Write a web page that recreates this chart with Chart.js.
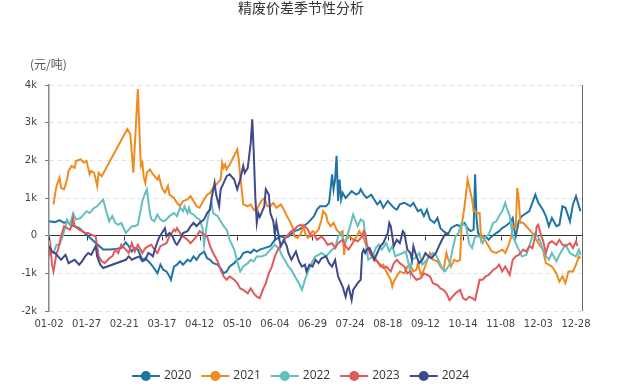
<!DOCTYPE html>
<html>
<head>
<meta charset="utf-8">
<script src="https://cdn.jsdelivr.net/npm/chart.js@4.4.0/dist/chart.umd.min.js"></script>
<style>
html,body{margin:0;padding:0;background:#fff;}
canvas{display:block;}
</style>
</head>
<body>
<canvas id="c" width="637" height="390"></canvas>
<script>
// x tick labels (one every 25 trading-calendar days)
const tickLabels = ["01-02","01-27","02-21","03-17","04-12","05-10","06-04","06-29","07-24","08-18","09-12","10-14","11-08","12-03","12-28"];
const years = ["2020","2021","2022","2023","2024"];
const colors = ["#1f74a6","#f28b1f","#63c0c0","#e05a5c","#3f4a8b"];
const titleText = "精废价差季节性分析";
const unitText = "(元/吨)";

// [day index, value in yuan/t]
const d2020 = [[0,380],[2,370],[4,360],[7,410],[10,340],[12,380],[14,290],[17,250],[20,200],[36,-370],[41,-370],[45,-350],[48,-330],[51,-180],[53,-280],[55,-420],[57,-330],[59,-370],[62,-640],[64,-600],[66,-680],[68,-770],[69,-820],[72,-1000],[74,-770],[76,-910],[78,-950],[80,-1080],[81,-1170],[83,-820],[85,-770],[87,-680],[89,-770],[92,-640],[94,-680],[96,-550],[98,-640],[100,-510],[103,-420],[105,-600],[107,-640],[109,-730],[112,-770],[114,-860],[116,-1000],[118,-950],[120,-820],[123,-730],[125,-640],[127,-600],[129,-460],[132,-420],[134,-460],[136,-370],[138,-420],[140,-370],[143,-330],[147,-280],[150,-110],[154,-20],[157,-60],[159,-20],[163,120],[166,160],[169,250],[172,340],[176,520],[178,690],[180,780],[184,780],[186,870],[187,1230],[188,1630],[189,1230],[190,1490],[191,2120],[192,920],[193,1490],[194,960],[195,1140],[197,1000],[199,1090],[201,1180],[204,1090],[206,1140],[207,1230],[209,1090],[211,1000],[214,1090],[216,960],[218,830],[220,920],[222,740],[225,920],[227,830],[229,740],[231,690],[233,830],[236,870],[238,830],[240,780],[242,870],[245,650],[247,690],[249,520],[251,690],[253,430],[256,340],[258,470],[260,200],[262,120],[265,30],[267,200],[269,250],[271,290],[273,250],[276,340],[278,200],[280,120],[282,160],[283,1630],[284,430],[285,70],[287,-20],[290,-20],[292,-110],[294,-20],[297,70],[299,120],[301,200],[303,250],[306,340],[308,470],[309,160],[310,-20],[312,380],[314,520],[317,600],[319,650],[321,870],[323,1090],[325,870],[328,690],[330,520],[332,250],[334,470],[337,250],[339,290],[341,780],[343,740],[346,380],[348,830],[350,1050],[352,780],[353,650]];

const d2021 = [[3,830],[4,1090],[5,1320],[7,1540],[8,1270],[10,1230],[12,1490],[13,1720],[15,1850],[17,1800],[18,1980],[21,2030],[23,1940],[25,1980],[26,1800],[27,1630],[28,1720],[30,1670],[32,1320],[33,1670],[35,1580],[52,2830],[54,2690],[56,1670],[59,3890],[61,1850],[62,1940],[63,1540],[64,1400],[65,1670],[67,1760],[69,1630],[72,1490],[73,1580],[75,1270],[77,1140],[79,1320],[80,1090],[83,1000],[85,870],[87,780],[89,920],[92,960],[94,1050],[96,920],[98,780],[100,740],[103,960],[105,1090],[107,1140],[109,1270],[112,1400],[114,1490],[115,1940],[116,1800],[117,1890],[118,1760],[120,1890],[123,2120],[125,2290],[126,2030],[127,1580],[128,1230],[129,830],[132,780],[134,830],[136,690],[138,650],[139,780],[141,920],[143,1000],[145,780],[147,780],[149,870],[151,740],[154,830],[156,690],[158,520],[160,380],[162,200],[163,-20],[165,-60],[167,30],[169,250],[170,70],[172,-60],[175,120],[177,70],[179,160],[181,430],[182,650],[184,560],[185,380],[187,250],[189,340],[191,160],[193,70],[195,120],[196,-510],[197,-110],[200,-20],[202,-110],[204,-60],[206,120],[209,-60],[210,-200],[211,-280],[213,-420],[216,-550],[218,-680],[220,-820],[222,-770],[224,-950],[227,-1170],[228,-1350],[229,-1220],[231,-1080],[233,-950],[236,-1000],[238,-820],[240,-770],[242,-950],[244,-910],[245,-730],[247,-1040],[249,-910],[251,-680],[253,-460],[255,-640],[258,-680],[260,-820],[262,-910],[264,-460],[265,-600],[267,-820],[269,-640],[271,-680],[273,-640],[274,250],[276,780],[278,1490],[281,960],[282,650],[283,650],[284,600],[286,600],[287,-110],[288,-20],[290,-150],[292,-280],[294,-420],[297,-460],[299,-420],[301,-370],[303,-460],[305,-280],[307,-20],[308,250],[310,200],[311,1270],[312,960],[313,340],[315,340],[317,250],[319,160],[321,70],[323,-60],[325,-200],[328,-370],[330,-730],[332,-770],[334,-820],[337,-1000],[339,-1220],[341,-1080],[343,-1260],[345,-950],[348,-950],[350,-770],[352,-550],[353,-600]];

const d2022 = [[1,-420],[3,-460],[5,-240],[7,-240],[9,-20],[11,250],[12,430],[14,290],[16,600],[18,430],[21,470],[23,560],[25,650],[27,600],[30,740],[32,780],[34,870],[36,960],[38,650],[40,380],[42,520],[44,340],[46,290],[48,340],[51,70],[53,160],[55,250],[57,250],[59,290],[62,920],[64,1140],[65,1230],[67,600],[68,430],[70,380],[72,560],[74,430],[76,380],[78,430],[80,520],[83,600],[85,520],[87,740],[89,650],[90,780],[92,600],[93,740],[94,600],[96,560],[98,470],[100,430],[102,200],[103,-240],[105,340],[107,780],[108,870],[109,600],[112,520],[114,380],[116,250],[118,160],[120,-110],[123,-370],[125,-680],[127,-950],[129,-820],[132,-730],[134,-640],[136,-680],[138,-550],[141,-550],[144,-510],[146,-420],[148,-330],[150,-240],[153,-370],[155,-550],[157,-680],[159,-820],[161,-910],[164,-1130],[166,-1260],[168,-1440],[169,-1310],[170,-1170],[172,-950],[175,-680],[177,-550],[179,-510],[181,-460],[184,-550],[186,-460],[188,-370],[190,-330],[192,-20],[194,70],[196,-200],[197,-150],[199,120],[200,250],[202,560],[205,250],[207,430],[209,380],[210,-20],[211,-370],[212,-640],[215,-550],[217,-330],[219,-240],[221,-370],[224,-200],[226,-420],[228,-280],[230,-550],[232,-510],[235,-460],[237,-420],[239,-770],[240,-1000],[241,-640],[243,-600],[246,-460],[248,-770],[250,-680],[252,-600],[255,-460],[257,-510],[259,-680],[261,-860],[263,-950],[266,-770],[268,-370],[270,-20],[272,70],[274,340],[277,250],[279,-200],[281,-330],[283,-20],[286,-20],[288,-200],[290,-20],[292,30],[295,340],[297,380],[299,520],[301,650],[303,870],[304,740],[306,520],[308,-20],[310,-200],[312,-370],[314,-550],[317,-510],[319,-280],[321,-20],[323,70],[326,-110],[328,-370],[330,-550],[332,-640],[334,-460],[337,-680],[339,-510],[341,-370],[343,-240],[346,-460],[348,-510],[350,-550],[352,-370],[353,-510]];

const d2023 = [[0,-550],[1,-280],[2,-770],[3,-950],[5,-460],[6,-370],[8,-20],[10,250],[12,200],[14,160],[15,250],[16,470],[17,250],[20,160],[22,120],[24,70],[26,70],[28,30],[31,-20],[33,-550],[35,-680],[37,-730],[40,-600],[42,-550],[44,-370],[46,-460],[48,-240],[51,-370],[53,-460],[55,-200],[57,-420],[59,-240],[62,-460],[64,-330],[66,-280],[68,-240],[70,-370],[72,-460],[74,-280],[76,-240],[78,-200],[80,-20],[83,160],[84,120],[85,200],[87,70],[89,-20],[92,-110],[94,-200],[96,-110],[98,-20],[100,120],[103,30],[105,-20],[107,-280],[109,-460],[112,-680],[114,-910],[116,-1080],[118,-1170],[120,-1080],[123,-1170],[125,-1260],[127,-1400],[129,-1440],[132,-1530],[134,-1400],[136,-1530],[138,-1620],[140,-1660],[142,-1440],[144,-1260],[146,-1000],[148,-820],[150,-550],[152,-370],[155,-200],[157,-60],[159,30],[161,120],[163,160],[165,250],[167,290],[170,250],[172,160],[174,-20],[176,30],[178,-110],[181,-20],[183,-110],[185,-240],[188,-200],[190,-330],[192,-200],[195,-110],[197,-280],[199,-370],[201,-240],[203,-110],[205,-150],[208,-20],[209,120],[210,70],[211,-200],[213,-460],[216,-640],[218,-680],[220,-770],[222,-860],[224,-820],[227,-950],[229,-730],[231,-640],[233,-730],[236,-820],[238,-1000],[240,-950],[242,-1080],[244,-1170],[247,-1130],[249,-1000],[251,-1040],[253,-1080],[255,-1260],[258,-1310],[260,-1400],[262,-1440],[264,-1530],[266,-1710],[268,-1620],[270,-1530],[273,-1440],[275,-1660],[277,-1710],[279,-1620],[281,-1660],[283,-1710],[286,-1170],[288,-1170],[290,-1080],[292,-1040],[295,-910],[297,-860],[299,-770],[301,-950],[303,-820],[306,-1040],[308,-640],[310,-550],[312,-510],[315,-370],[317,-420],[319,-280],[321,-330],[323,-20],[324,250],[325,290],[327,-20],[328,-110],[330,-460],[332,-200],[334,-150],[337,-240],[339,-110],[341,-240],[343,-280],[346,-200],[348,-330],[350,-150],[351,-280]];

const d2024 = [[0,-280],[2,-420],[4,-460],[6,-550],[8,-640],[11,-510],[13,-730],[15,-680],[17,-640],[20,-770],[22,-680],[24,-550],[26,-460],[28,-510],[31,-280],[32,-550],[34,-770],[36,-860],[51,-640],[53,-550],[55,-640],[57,-600],[60,-550],[62,-680],[64,-640],[66,-460],[68,-510],[69,-550],[71,-280],[73,-60],[75,70],[77,200],[78,-20],[80,70],[82,-20],[84,-200],[85,-240],[87,-110],[89,70],[92,120],[94,250],[96,340],[98,250],[100,340],[103,430],[105,600],[107,690],[108,1000],[110,1400],[111,1090],[113,780],[114,1230],[116,1400],[118,1580],[120,1630],[123,1490],[125,1230],[127,1490],[129,1850],[130,1670],[132,1800],[134,2470],[135,3090],[136,2200],[137,1050],[138,340],[139,600],[140,500],[143,780],[144,1230],[146,1090],[147,600],[149,380],[150,30],[151,340],[153,-110],[154,-280],[156,-110],[158,-280],[159,-460],[161,-640],[164,-420],[166,-680],[168,-820],[170,-770],[171,-950],[173,-770],[175,-820],[177,-640],[179,-730],[181,-600],[184,-550],[186,-730],[188,-820],[190,-640],[192,-1080],[195,-1350],[197,-1620],[198,-1440],[199,-1350],[201,-1710],[202,-1440],[205,-1260],[207,-1170],[208,-460],[209,-370],[210,-460],[211,-370],[213,-330],[216,-640],[218,-460],[220,-280],[222,-200],[225,70],[226,340],[227,250],[228,-20],[229,-280],[231,-110],[233,-200],[235,120],[236,70],[238,-370],[240,-460],[241,-640],[242,-280],[244,-550],[246,-730],[248,-640],[250,-460],[252,-550],[254,-600],[257,-460],[259,-280],[261,-110],[263,30],[265,70]];

const seriesData = [d2020, d2021, d2022, d2023, d2024];

Chart.defaults.font.family = '"DejaVu Sans", sans-serif';

const extras = {
  id: 'extras',
  beforeDatasetsDraw(chart) {
    const {ctx, scales: {x, y}, chartArea} = chart;
    const y0 = Math.round(y.getPixelForValue(0)) + 0.5;
    ctx.save();
    ctx.strokeStyle = '#333';
    ctx.lineWidth = 1;
    x.ticks.forEach(t => {
      const px = Math.round(x.getPixelForValue(t.value)) + 0.5;
      ctx.beginPath(); ctx.moveTo(px, y0); ctx.lineTo(px, y0 + 4); ctx.stroke();
    });
    const r = Math.round(chartArea.right) + 0.5;
    ctx.strokeStyle = '#666';
    ctx.beginPath(); ctx.moveTo(r, chartArea.top); ctx.lineTo(r, chartArea.bottom); ctx.stroke();
    ctx.restore();
  },
  afterDraw(chart) {
    const ctx = chart.ctx;
    ctx.save();
    // title
    ctx.fillStyle = '#333';
    ctx.font = '14px "Noto Sans CJK SC"';
    ctx.textAlign = 'center';
    ctx.textBaseline = 'middle';
    ctx.fillText(titleText, 301, 8);
    // unit
    ctx.fillStyle = '#555';
    ctx.font = '12px "Noto Sans CJK SC"';
    ctx.textAlign = 'left';
    ctx.fillText(unitText, 30, 64);
    // legend
    ctx.font = '12px "Open Sans"';
    const lineW = 28, gapT = 4, gapI = 10;
    const widths = years.map(t => lineW + gapT + ctx.measureText(t).width);
    const total = widths.reduce((a, b) => a + b, 0) + gapI * (years.length - 1);
    let lx = 300.5 - total / 2;
    const ly = 376;
    chart.data.datasets.forEach((ds, i) => {
      ctx.strokeStyle = ds.borderColor;
      ctx.lineWidth = 2;
      ctx.beginPath(); ctx.moveTo(lx, ly); ctx.lineTo(lx + lineW, ly); ctx.stroke();
      ctx.fillStyle = ds.borderColor;
      ctx.beginPath(); ctx.arc(lx + lineW / 2, ly, 5, 0, Math.PI * 2); ctx.fill();
      ctx.fillStyle = '#333';
      ctx.textAlign = 'left';
      ctx.textBaseline = 'middle';
      ctx.fillText(ds.label, lx + lineW + gapT, ly);
      lx += widths[i] + gapI;
    });
    ctx.restore();
  }
};

new Chart(document.getElementById('c'), {
  type: 'line',
  data: {
    datasets: years.map((yr, i) => ({
      label: yr,
      data: seriesData[i].map(p => ({x: p[0], y: p[1]})),
      borderColor: colors[i],
      backgroundColor: colors[i],
      borderWidth: 2,
      pointRadius: 0,
      tension: 0,
      fill: false,
      order: years.length - i
    }))
  },
  options: {
    responsive: false,
    animation: false,
    devicePixelRatio: 1,
    layout: { padding: { left: 0, right: 55, top: 85, bottom: 49 } },
    plugins: { legend: { display: false }, title: { display: false }, tooltip: { enabled: false } },
    scales: {
      x: {
        type: 'linear',
        min: 0,
        max: 354,
        afterBuildTicks: s => { s.ticks = tickLabels.map((l, i) => ({ value: i * 25 })); },
        afterFit: s => { s.height = 30; },
        ticks: {
          autoSkip: false,
          maxRotation: 0,
          padding: 7,
          color: '#444',
          font: { size: 10 },
          callback: (v) => tickLabels[Math.round(v / 25)] || ''
        },
        grid: { display: false, drawTicks: false },
        border: { display: false }
      },
      y: {
        min: -2000,
        max: 4000,
        afterFit: s => { s.width = 49; },
        ticks: {
          stepSize: 1000,
          padding: 8,
          color: '#444',
          font: { size: 10 },
          callback: v => v === 0 ? '0' : (v / 1000) + 'k'
        },
        grid: {
          color: c => (c.tick && c.tick.value === 0) ? '#333' : '#dedede',
          lineWidth: 1,
          tickLength: 4,
          tickColor: '#777',
          drawTicks: true
        },
        border: {
          display: true,
          color: '#888',
          width: 1.5,
          dash: c => (c.tick && c.tick.value === 0) ? [] : [4, 4]
        }
      }
    }
  },
  plugins: [extras]
});
</script>
</body>
</html>
